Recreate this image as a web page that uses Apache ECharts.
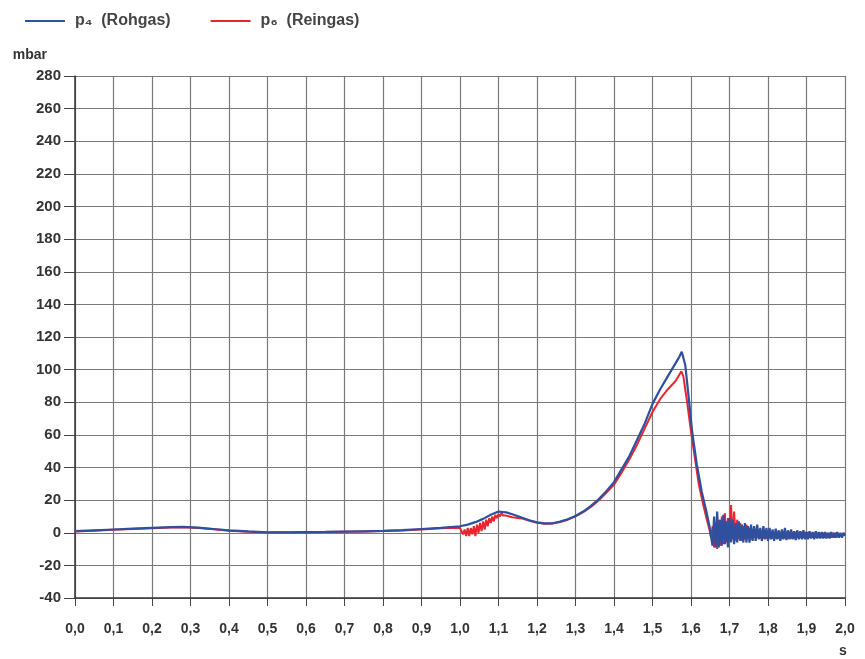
<!DOCTYPE html>
<html><head><meta charset="utf-8">
<script src="https://cdn.jsdelivr.net/npm/echarts@6/dist/echarts.min.js"></script>
<style>html,body{margin:0;padding:0;background:#fff}#c{width:865px;height:659px}</style>
</head><body><div id="c"></div>
<script>
// Smooth part of p4 (Rohgas)
const blueTimes = [0,0.05,0.1,0.15,0.2,0.25,0.28,0.32,0.36,0.4,0.45,0.5,0.55,0.6,0.65,0.7,0.75,0.8,0.85,0.9,0.95,1.0,1.02,1.04,1.06,1.08,1.1,1.12,1.14,1.16,1.18,1.2,1.22,1.24,1.26,1.28,1.3,1.32,1.34,1.36,1.38,1.4,1.42,1.44,1.46,1.48,1.5,1.52,1.54,1.55,1.56,1.57,1.576,1.585,1.594,1.603,1.615,1.628,1.64,1.648];
const blueValues = [1,1.5,2,2.5,3,3.4,3.6,3.1,2.3,1.5,0.8,0.3,0.3,0.4,0.5,0.7,0.9,1.1,1.6,2.3,3,4,5,6.5,8.5,11,13,12.5,11,9.3,7.7,6.4,5.7,5.8,6.8,8.3,10.3,13,16.5,20.5,25.5,31,39,47,57,67,79,88,96,100,104,108,111,103,83,62,42,25,13,4];
// Smooth part of p6 (Reingas)
const redTimes = [0,0.05,0.1,0.15,0.2,0.25,0.28,0.32,0.36,0.4,0.45,0.5,0.55,0.6,0.65,0.7,0.75,0.8,0.85,0.9,0.95,1.0];
const redValues = [0.8,1.3,1.8,2.3,2.8,3.2,3.4,2.9,2.1,1.3,0.6,0.2,0.2,0.3,0.4,0.6,0.8,1,1.4,2,2.7,3];
const redEarlyNoiseStart = 1.004;
const redEarlyNoise = [1,-1,2,-2,3,-2,3,-1,4,-2,5,0,6,1,7,2,8,4,9,6,10,7,11,9,11.5,10,12,10.5,11.5,10.5,11,10,10.5,9.5,9.5];
const redMidTimes = [1.16,1.18,1.2,1.22,1.24,1.26,1.28,1.3,1.32,1.34,1.36,1.38,1.4,1.42,1.44,1.46,1.48,1.5,1.52,1.54,1.56,1.565,1.57,1.575,1.58,1.59,1.6,1.61,1.62,1.63,1.64,1.648];
const redMidValues = [8.8,7.4,6.1,5.5,5.6,6.6,8,10,12.6,15.8,19.8,24.5,29.5,37,45,54,64,74,82,88,93,95,97,99,96,80,62,46,30,19,9,2];
// Oscillating tail after the pressure drop, sampled every 4 ms from 1.652 s
const noiseStart = 1.652, noiseStep = 0.004;
const blueNoise = [3,-8,10,-9,13,-9,8,-8,11,-7,7,-9,9,-6,8,-7,6,-6,7,-5,5,-6,
  6,-6,4,-6,5,-5,4,-5,5,-4,3,-5,4,-4,3,
  -5,3,-4,2,-5,2.5,-4,1.5,-5,2,-4,3,-4.5,1.5,-4,2,-4,1,-4.5,1.5,-4,1,-4,1.5,-4,0.5,-4,1,-3.5,0.5,-4,1,-3.5,0.5,-3.5,0.5,-3.5,0.5,-3.5,0,-3.5,0.5,-3,0,-3,0.5,-3,0,-3,0,-2];
const redNoise = [-3,4,-9,6,-10,8,-8,10,-7,12,-6,9,-5,17,-4,13,-5,8,-4,6,-5,4,-4,5,-3,3,-4,2,-3,2,-3,1,
  -3.5,0.5,-3.5,0.5,-3.5,0.5,-3.5,0.5,-3.5,0.5,-3.5,0.5,-3.5,0.5,-3.5,0.5,-3.5,0.5,-3.5,0.5,-3.5,0.5,-3.5,0.5,-3,0.5,-3,0.5,-3,0.5,-3,0.5,-3,0,-3,0,-3,0,-3,0,-3,0,-3,0,-3,0,-3,0,-3,0,-2.5,-1.5];
const yMin = -40, yMax = 280, yStep = 20;
const xMin = 0, xMax = 2, xStep = 0.1;

function pairs(ts, vs){ return ts.map((t,i)=>[t, vs[i]]); }
function sampled(start, step, vs){ return vs.map((v,i)=>[+(start+i*step).toFixed(4), v]); }

const blueData = pairs(blueTimes, blueValues).concat(sampled(noiseStart, noiseStep, blueNoise));
const redData = pairs(redTimes, redValues)
  .concat(sampled(redEarlyNoiseStart, noiseStep, redEarlyNoise))
  .concat(pairs(redMidTimes, redMidValues))
  .concat(sampled(noiseStart, noiseStep, redNoise));

const BLUE = '#2f4f9f', RED = '#e8262f';
const FONT = 'Liberation Sans, Arial, sans-serif';
const chart = echarts.init(document.getElementById('c'));
chart.setOption({
  backgroundColor: '#fff',
  animation: false,
  textStyle: {fontFamily: FONT},
  legend: {
    left: 20, top: 8, itemWidth: 40, itemHeight: 2, itemGap: 40, icon: 'rect',
    data: ['p₄  (Rohgas)', 'p₆  (Reingas)'],
    textStyle: {fontSize: 16, fontWeight: 'bold', color: '#444', fontFamily: FONT, padding: [0,0,0,5]}
  },
  grid: {left: 75, right: 20, top: 76, bottom: 61},
  xAxis: {
    type: 'value', min: xMin, max: xMax, interval: xStep,
    name: 's', nameLocation: 'end', nameGap: -6,
    nameTextStyle: {color: '#333', fontSize: 14, fontWeight: 'bold', verticalAlign: 'top', padding: [46,0,0,0]},
    axisLine: {show: true, onZero: false, lineStyle: {color: '#333', width: 1.5}},
    axisTick: {show: true, length: 8, lineStyle: {color: '#444'}},
    axisLabel: {margin: 24, color: '#333', fontSize: 14, fontWeight: 'bold',
      formatter: v => v.toFixed(1).replace('.', ',')},
    splitLine: {show: true, lineStyle: {color: '#7a7a7a', width: 1.2}}
  },
  yAxis: {
    type: 'value', min: yMin, max: yMax, interval: yStep,
    name: 'mbar', nameLocation: 'end', nameGap: 14,
    nameTextStyle: {color: '#333', fontSize: 14, fontWeight: 'bold', align: 'right', padding: [0,28,0,0]},
    axisLine: {show: true, lineStyle: {color: '#333', width: 1.5}},
    axisTick: {show: true, length: 11, lineStyle: {color: '#444'}},
    axisLabel: {margin: 14, color: '#333', fontSize: 15, fontWeight: 'bold'},
    splitLine: {show: true, lineStyle: {color: '#7a7a7a', width: 1.2}}
  },
  series: [
    {name: 'p₆  (Reingas)', type: 'line', data: redData, showSymbol: false, smooth: false,
     lineStyle: {color: RED, width: 2}, itemStyle: {color: RED}, z: 2},
    {name: 'p₄  (Rohgas)', type: 'line', data: blueData, showSymbol: false, smooth: false,
     lineStyle: {color: BLUE, width: 2.2}, itemStyle: {color: BLUE}, z: 3}
  ]
});
</script></body></html>
